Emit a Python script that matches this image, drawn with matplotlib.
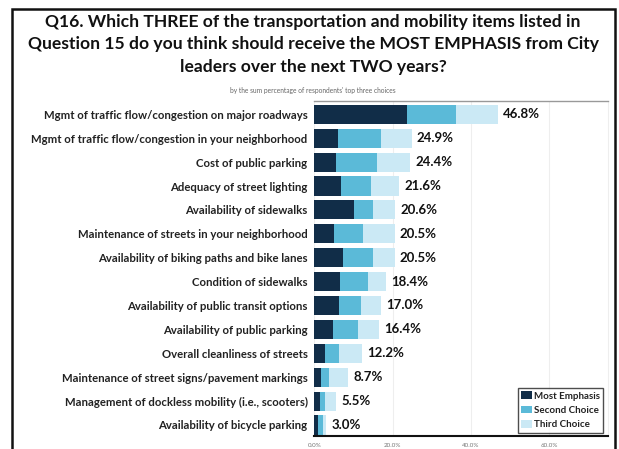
import matplotlib.pyplot as plt
import numpy as np

items = [
    "Mgmt of traffic flow/congestion on major roadways",
    "Mgmt of traffic flow/congestion in your neighborhood",
    "Cost of public parking",
    "Adequacy of street lighting",
    "Availability of sidewalks",
    "Maintenance of streets in your neighborhood",
    "Availability of biking paths and bike lanes",
    "Condition of sidewalks",
    "Availability of public transit options",
    "Availability of public parking",
    "Overall cleanliness of streets",
    "Maintenance of street signs/pavement markings",
    "Management of dockless mobility (i.e., scooters)",
    "Availability of bicycle parking",
]
most = [23.6, 6.1, 5.6, 6.9, 10.1, 5.1, 7.3, 6.5, 6.2, 4.8, 2.6, 1.7, 1.3, 0.9]
second = [12.6, 11.0, 10.5, 7.5, 4.8, 7.2, 7.6, 7.2, 5.6, 6.4, 3.6, 2.0, 1.4, 1.3]
total = [46.8, 24.9, 24.4, 21.6, 20.6, 20.5, 20.5, 18.4, 17.0, 16.4, 12.2, 8.7, 5.5, 3.0]

c_most = "#112d48"
c_second = "#5bbad8"
c_third = "#cbe9f5"

plt.rcParams['font.family'] = ['Lato', 'DejaVu Sans']

most = np.array(most)
second = np.array(second)
total = np.array(total)
third = total - most - second
y = np.arange(len(items))

fig = plt.figure(figsize=(6.19, 4.49), dpi=100)
ax = fig.add_axes([0.508, 0.029, 0.474, 0.746])

h = 0.8
ax.barh(y, most, height=h, color=c_most, label="Most Emphasis")
ax.barh(y, second, left=most, height=h, color=c_second, label="Second Choice")
ax.barh(y, third, left=most + second, height=h, color=c_third, label="Third Choice")

for yi, t in zip(y, total):
    ax.text(t + 1.3, yi, f"{t:.1f}%", va="center", ha="left",
            fontsize=9.5, fontweight="bold", color="#111111")

ax.set_xlim(0, 75)
ax.set_ylim(13.46, -0.556)
ax.set_xticks([0, 20, 40, 60])
ax.set_xticklabels(["0.0%", "20.0%", "40.0%", "60.0%"], fontsize=4.5, color="#777777")
ax.set_yticks(y)
ax.set_yticklabels(items, fontsize=8.2, fontweight="bold", color="#222222")
ax.tick_params(axis="both", length=0)
ax.tick_params(axis="y", pad=5)
ax.tick_params(axis="x", pad=5)
ax.grid(axis="x", color="#eeeeee", linewidth=0.8)
ax.set_axisbelow(True)

ax.spines["left"].set_visible(False)
ax.spines["right"].set_color("#eeeeee")
ax.spines["top"].set_color("#999999")
ax.spines["top"].set_linewidth(1.0)
ax.spines["bottom"].set_color("#111111")
ax.spines["bottom"].set_linewidth(1.5)

leg = ax.legend(loc="lower right", bbox_to_anchor=(0.985, 0.008), fontsize=7,
                frameon=True, fancybox=False, handlelength=1.1, handleheight=0.8,
                handletextpad=0.15, labelspacing=0.55, borderpad=0.4, borderaxespad=0)
leg.get_frame().set_edgecolor("#222222")
leg.get_frame().set_linewidth(1.0)
for t in leg.get_texts():
    t.set_fontweight("bold")
    t.set_color("#222222")

title_lines = [
    "Q16. Which THREE of the transportation and mobility items listed in",
    "Question 15 do you think should receive the MOST EMPHASIS from City",
    "leaders over the next TWO years?",
]
for i, line in enumerate(title_lines):
    fig.text(0.506, 0.951 - i * 0.05, line, ha="center", va="center",
             fontsize=12.6, fontweight="bold", color="#111111")
fig.text(0.506, 0.798, "by the sum percentage of respondents' top three choices",
         ha="center", va="center", fontsize=4.8, color="#666666")

# outer frame
fig.add_artist(plt.Rectangle((0.020, -0.05), 0.974, 1.03, transform=fig.transFigure,
                             fill=False, edgecolor="#111111", linewidth=1.8))

fig.savefig("out.png", dpi=100)
